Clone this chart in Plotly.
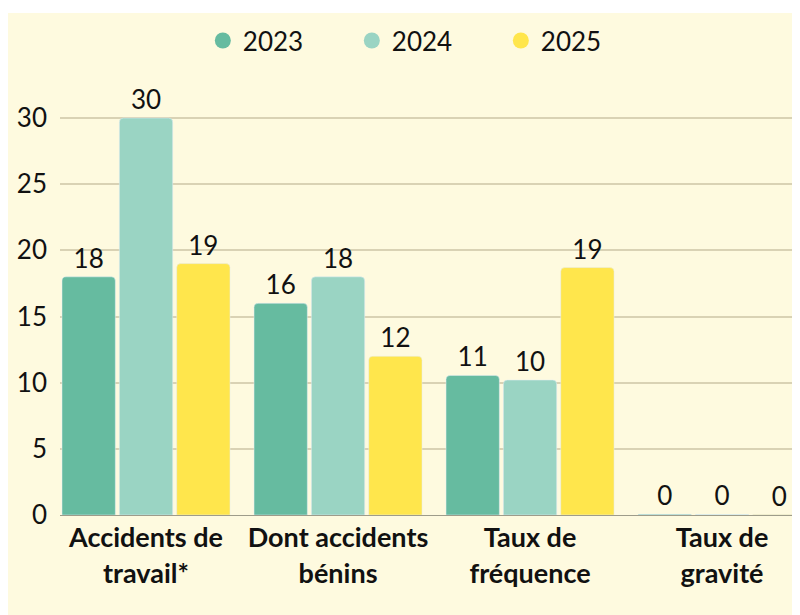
import plotly.graph_objects as go

# ---------- data ----------
categories = ["Accidents de<br>travail*", "Dont accidents<br>bénins",
              "Taux de<br>fréquence", "Taux de<br>gravité"]
years = ["2023", "2024", "2025"]
values_2023 = [18, 16, 10.55, 0.05]
values_2024 = [30, 18, 10.2, 0.04]
values_2025 = [19, 12, 18.7, 0.03]
colors = ["#66BBA0", "#9AD4C3", "#FFE64C"]

BG = "#FEFADF"
FONT = "Lato"

fig = go.Figure()
for yr, vals, col in zip(years, [values_2023, values_2024, values_2025], colors):
    fig.add_trace(go.Bar(
        x=categories, y=vals, name=yr, marker_color=col,
        text=vals, texttemplate="%{y:.0f}", textposition="outside",
        textfont=dict(size=26, color="#111111", family=FONT),
        cliponaxis=False, showlegend=False,
    ))
    # legend entry with a round marker
    fig.add_trace(go.Scatter(
        x=[None], y=[None], mode="markers", name=yr,
        marker=dict(symbol="circle", size=26, color=col),
    ))

# page body adds 8px, so the figure is 792x607
fig.update_layout(
    width=792, height=607,
    paper_bgcolor=BG, plot_bgcolor="rgba(0,0,0,0)",
    font=dict(family=FONT, size=26, color="#111111"),
    margin=dict(l=52, r=0, t=82, b=100),
    barmode="group", bargap=0.104, bargroupgap=0.07,
    barcornerradius=4,
    legend=dict(
        orientation="h", xref="container", yref="container",
        x=0.246, y=0.985, xanchor="left", yanchor="top",
        font=dict(size=26, family=FONT), bgcolor="rgba(0,0,0,0)",
        itemsizing="trace", entrywidth=104, entrywidthmode="pixels",
    ),
    # thin white band along the top edge
    shapes=[dict(
        type="rect", xref="paper", yref="paper", layer="below",
        x0=-0.1, x1=1.05, y0=1 + 77 / 425, y1=1 + 90 / 425,
        fillcolor="white", line=dict(width=0),
    )],
)

fig.update_xaxes(
    range=[-0.448, 3.406], showgrid=False, showline=True,
    linecolor="#9E9C8A", linewidth=1, ticks="",
    tickfont=dict(size=27, family=FONT, weight="bold"),
    ticklabelstandoff=-1,
)
fig.update_yaxes(
    range=[0, 32.12], dtick=5, showgrid=True, gridcolor="#D9D2B4",
    gridwidth=1.5, zeroline=False, showline=False, ticks="",
    tickfont=dict(size=26, family=FONT), ticklabelstandoff=12,
)

fig.write_html("out.html")
